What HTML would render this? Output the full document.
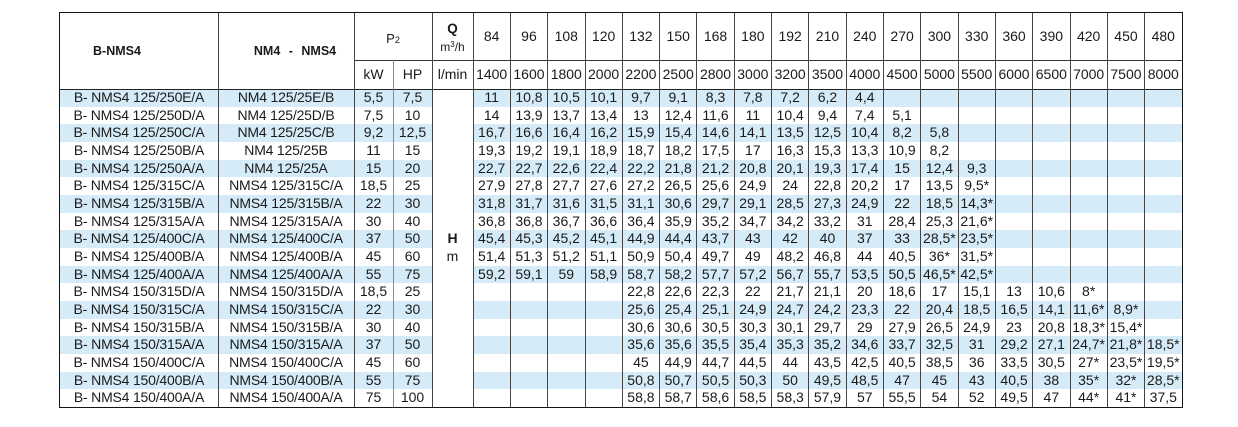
<!DOCTYPE html>
<html><head><meta charset="utf-8">
<style>
*{margin:0;padding:0;box-sizing:border-box}
body{width:1238px;height:427px;background:#fff;position:relative;overflow:hidden;font-family:"Liberation Sans",Arial,sans-serif;color:#1a1a1a}
.r{position:absolute;left:60px;width:1122px;height:17.67px;display:flex;font-size:14px;line-height:17.67px}
.r span{flex:none;width:37.316px;text-align:center;white-space:nowrap}
.r span:nth-child(1){width:158px;letter-spacing:-0.2px}
.r span:nth-child(2){width:136px;letter-spacing:-0.2px}
.r span:nth-child(3),.r span:nth-child(4){width:39px}
.r span:nth-child(5){width:41px}
.b{background:#d5ebf8}
.h1{position:absolute;left:473px;top:12px;height:48px;display:flex;font-size:14px;line-height:49px}
.h1 span{flex:none;width:37.316px;text-align:center}
.h2{position:absolute;left:354px;top:60px;height:29px;display:flex;font-size:14px;line-height:29px}
.h2 span{flex:none;width:37.316px;text-align:center;white-space:nowrap}
.h2 span:nth-child(1),.h2 span:nth-child(2){width:39px}
.h2 span:nth-child(3){width:41px}
.v{position:absolute;width:1px;background:#444;top:12px;height:395px}
.vd{position:absolute;width:1px;background:#444;top:60px;height:347px}
.t{position:absolute;text-align:center;white-space:nowrap}
</style></head><body>

<!-- data rows -->
<div class="r b" style="top:89px"><span>B- NMS4 125/250E/A</span><span>NM4 125/25E/B</span><span>5,5</span><span>7,5</span><span></span><span>11</span><span>10,8</span><span>10,5</span><span>10,1</span><span>9,7</span><span>9,1</span><span>8,3</span><span>7,8</span><span>7,2</span><span>6,2</span><span>4,4</span><span></span><span></span><span></span><span></span><span></span><span></span><span></span><span></span></div>
<div class="r" style="top:106.67px"><span>B- NMS4 125/250D/A</span><span>NM4 125/25D/B</span><span>7,5</span><span>10</span><span></span><span>14</span><span>13,9</span><span>13,7</span><span>13,4</span><span>13</span><span>12,4</span><span>11,6</span><span>11</span><span>10,4</span><span>9,4</span><span>7,4</span><span>5,1</span><span></span><span></span><span></span><span></span><span></span><span></span><span></span></div>
<div class="r b" style="top:124.33px"><span>B- NMS4 125/250C/A</span><span>NM4 125/25C/B</span><span>9,2</span><span>12,5</span><span></span><span>16,7</span><span>16,6</span><span>16,4</span><span>16,2</span><span>15,9</span><span>15,4</span><span>14,6</span><span>14,1</span><span>13,5</span><span>12,5</span><span>10,4</span><span>8,2</span><span>5,8</span><span></span><span></span><span></span><span></span><span></span><span></span></div>
<div class="r" style="top:142px"><span>B- NMS4 125/250B/A</span><span>NM4 125/25B</span><span>11</span><span>15</span><span></span><span>19,3</span><span>19,2</span><span>19,1</span><span>18,9</span><span>18,7</span><span>18,2</span><span>17,5</span><span>17</span><span>16,3</span><span>15,3</span><span>13,3</span><span>10,9</span><span>8,2</span><span></span><span></span><span></span><span></span><span></span><span></span></div>
<div class="r b" style="top:159.67px"><span>B- NMS4 125/250A/A</span><span>NM4 125/25A</span><span>15</span><span>20</span><span></span><span>22,7</span><span>22,7</span><span>22,6</span><span>22,4</span><span>22,2</span><span>21,8</span><span>21,2</span><span>20,8</span><span>20,1</span><span>19,3</span><span>17,4</span><span>15</span><span>12,4</span><span>9,3</span><span></span><span></span><span></span><span></span><span></span></div>
<div class="r" style="top:177.33px"><span>B- NMS4 125/315C/A</span><span>NMS4 125/315C/A</span><span>18,5</span><span>25</span><span></span><span>27,9</span><span>27,8</span><span>27,7</span><span>27,6</span><span>27,2</span><span>26,5</span><span>25,6</span><span>24,9</span><span>24</span><span>22,8</span><span>20,2</span><span>17</span><span>13,5</span><span>9,5*</span><span></span><span></span><span></span><span></span><span></span></div>
<div class="r b" style="top:195px"><span>B- NMS4 125/315B/A</span><span>NMS4 125/315B/A</span><span>22</span><span>30</span><span></span><span>31,8</span><span>31,7</span><span>31,6</span><span>31,5</span><span>31,1</span><span>30,6</span><span>29,7</span><span>29,1</span><span>28,5</span><span>27,3</span><span>24,9</span><span>22</span><span>18,5</span><span>14,3*</span><span></span><span></span><span></span><span></span><span></span></div>
<div class="r" style="top:212.67px"><span>B- NMS4 125/315A/A</span><span>NMS4 125/315A/A</span><span>30</span><span>40</span><span></span><span>36,8</span><span>36,8</span><span>36,7</span><span>36,6</span><span>36,4</span><span>35,9</span><span>35,2</span><span>34,7</span><span>34,2</span><span>33,2</span><span>31</span><span>28,4</span><span>25,3</span><span>21,6*</span><span></span><span></span><span></span><span></span><span></span></div>
<div class="r b" style="top:230.33px"><span>B- NMS4 125/400C/A</span><span>NMS4 125/400C/A</span><span>37</span><span>50</span><span></span><span>45,4</span><span>45,3</span><span>45,2</span><span>45,1</span><span>44,9</span><span>44,4</span><span>43,7</span><span>43</span><span>42</span><span>40</span><span>37</span><span>33</span><span>28,5*</span><span>23,5*</span><span></span><span></span><span></span><span></span><span></span></div>
<div class="r" style="top:248px"><span>B- NMS4 125/400B/A</span><span>NMS4 125/400B/A</span><span>45</span><span>60</span><span></span><span>51,4</span><span>51,3</span><span>51,2</span><span>51,1</span><span>50,9</span><span>50,4</span><span>49,7</span><span>49</span><span>48,2</span><span>46,8</span><span>44</span><span>40,5</span><span>36*</span><span>31,5*</span><span></span><span></span><span></span><span></span><span></span></div>
<div class="r b" style="top:265.67px"><span>B- NMS4 125/400A/A</span><span>NMS4 125/400A/A</span><span>55</span><span>75</span><span></span><span>59,2</span><span>59,1</span><span>59</span><span>58,9</span><span>58,7</span><span>58,2</span><span>57,7</span><span>57,2</span><span>56,7</span><span>55,7</span><span>53,5</span><span>50,5</span><span>46,5*</span><span>42,5*</span><span></span><span></span><span></span><span></span><span></span></div>
<div class="r" style="top:283.33px"><span>B- NMS4 150/315D/A</span><span>NMS4 150/315D/A</span><span>18,5</span><span>25</span><span></span><span></span><span></span><span></span><span></span><span>22,8</span><span>22,6</span><span>22,3</span><span>22</span><span>21,7</span><span>21,1</span><span>20</span><span>18,6</span><span>17</span><span>15,1</span><span>13</span><span>10,6</span><span>8*</span><span></span><span></span></div>
<div class="r b" style="top:301px"><span>B- NMS4 150/315C/A</span><span>NMS4 150/315C/A</span><span>22</span><span>30</span><span></span><span></span><span></span><span></span><span></span><span>25,6</span><span>25,4</span><span>25,1</span><span>24,9</span><span>24,7</span><span>24,2</span><span>23,3</span><span>22</span><span>20,4</span><span>18,5</span><span>16,5</span><span>14,1</span><span>11,6*</span><span>8,9*</span><span></span></div>
<div class="r" style="top:318.67px"><span>B- NMS4 150/315B/A</span><span>NMS4 150/315B/A</span><span>30</span><span>40</span><span></span><span></span><span></span><span></span><span></span><span>30,6</span><span>30,6</span><span>30,5</span><span>30,3</span><span>30,1</span><span>29,7</span><span>29</span><span>27,9</span><span>26,5</span><span>24,9</span><span>23</span><span>20,8</span><span>18,3*</span><span>15,4*</span><span></span></div>
<div class="r b" style="top:336.33px"><span>B- NMS4 150/315A/A</span><span>NMS4 150/315A/A</span><span>37</span><span>50</span><span></span><span></span><span></span><span></span><span></span><span>35,6</span><span>35,6</span><span>35,5</span><span>35,4</span><span>35,3</span><span>35,2</span><span>34,6</span><span>33,7</span><span>32,5</span><span>31</span><span>29,2</span><span>27,1</span><span>24,7*</span><span>21,8*</span><span>18,5*</span></div>
<div class="r" style="top:354px"><span>B- NMS4 150/400C/A</span><span>NMS4 150/400C/A</span><span>45</span><span>60</span><span></span><span></span><span></span><span></span><span></span><span>45</span><span>44,9</span><span>44,7</span><span>44,5</span><span>44</span><span>43,5</span><span>42,5</span><span>40,5</span><span>38,5</span><span>36</span><span>33,5</span><span>30,5</span><span>27*</span><span>23,5*</span><span>19,5*</span></div>
<div class="r b" style="top:371.67px"><span>B- NMS4 150/400B/A</span><span>NMS4 150/400B/A</span><span>55</span><span>75</span><span></span><span></span><span></span><span></span><span></span><span>50,8</span><span>50,7</span><span>50,5</span><span>50,3</span><span>50</span><span>49,5</span><span>48,5</span><span>47</span><span>45</span><span>43</span><span>40,5</span><span>38</span><span>35*</span><span>32*</span><span>28,5*</span></div>
<div class="r" style="top:389.33px"><span>B- NMS4 150/400A/A</span><span>NMS4 150/400A/A</span><span>75</span><span>100</span><span></span><span></span><span></span><span></span><span></span><span>58,8</span><span>58,7</span><span>58,6</span><span>58,5</span><span>58,3</span><span>57,9</span><span>57</span><span>55,5</span><span>54</span><span>52</span><span>49,5</span><span>47</span><span>44*</span><span>41*</span><span>37,5</span></div>

<!-- Q column white in data area -->
<div style="position:absolute;left:432px;top:89px;width:41px;height:318px;background:#fff"></div>
<div class="t" style="left:432px;top:230.33px;width:41px;line-height:17.67px;font-size:14px;font-weight:bold">H</div>
<div class="t" style="left:432px;top:248px;width:41px;line-height:17.67px;font-size:14px">m</div>

<!-- header texts -->
<div class="t" style="left:67px;top:44px;width:100px;line-height:14px;font-size:12.5px;font-weight:bold">B-NMS4</div>
<div class="t" style="left:235px;top:44px;width:120px;line-height:14px;font-size:12.5px;font-weight:bold;word-spacing:5px">NM4 - NMS4</div>
<div class="t" style="left:354px;top:31px;width:78px;line-height:16px;font-size:13px">P<span style="font-size:9px">2</span></div>
<div class="t" style="left:432px;top:21px;width:41px;line-height:15px;font-size:13.5px;font-weight:bold">Q</div>
<div class="t" style="left:432px;top:38px;width:41px;line-height:14px;font-size:12px">m<span style="font-size:8px;vertical-align:4px">3</span>/h</div>

<div class="h1"><span>84</span><span>96</span><span>108</span><span>120</span><span>132</span><span>150</span><span>168</span><span>180</span><span>192</span><span>210</span><span>240</span><span>270</span><span>300</span><span>330</span><span>360</span><span>390</span><span>420</span><span>450</span><span>480</span></div>
<div class="h2"><span>kW</span><span>HP</span><span>l/min</span><span>1400</span><span>1600</span><span>1800</span><span>2000</span><span>2200</span><span>2500</span><span>2800</span><span>3000</span><span>3200</span><span>3500</span><span>4000</span><span>4500</span><span>5000</span><span>5500</span><span>6000</span><span>6500</span><span>7000</span><span>7500</span><span>8000</span></div>

<!-- horizontal lines -->
<div style="position:absolute;left:354px;top:59.5px;width:828px;height:1px;background:#333"></div>
<div style="position:absolute;left:59px;top:88.5px;width:1123px;height:1.2px;background:#222"></div>

<!-- vertical lines -->
<div class="v" style="left:217.5px"></div>
<div class="v" style="left:353.5px"></div>
<div class="vd" style="left:392.5px;width:1.6px;background:#8a8a8a"></div>
<div class="v" style="left:431.5px"></div>
<div class="v" style="left:472.5px"></div>
<div class="v" style="left:509.8px"></div>
<div class="v" style="left:547.1px"></div>
<div class="v" style="left:584.5px"></div>
<div class="v" style="left:621.8px"></div>
<div class="v" style="left:659.1px"></div>
<div class="v" style="left:696.4px"></div>
<div class="v" style="left:733.7px"></div>
<div class="v" style="left:771px"></div>
<div class="v" style="left:808.3px"></div>
<div class="v" style="left:845.7px"></div>
<div class="v" style="left:883px"></div>
<div class="v" style="left:920.3px"></div>
<div class="v" style="left:957.6px"></div>
<div class="v" style="left:994.9px"></div>
<div class="v" style="left:1032.2px"></div>
<div class="v" style="left:1069.6px"></div>
<div class="v" style="left:1106.9px"></div>
<div class="v" style="left:1144.2px"></div>

<!-- outer border -->
<div style="position:absolute;left:59px;top:11.5px;width:1124px;height:396.5px;border:1.3px solid #151515"></div>
</body></html>
